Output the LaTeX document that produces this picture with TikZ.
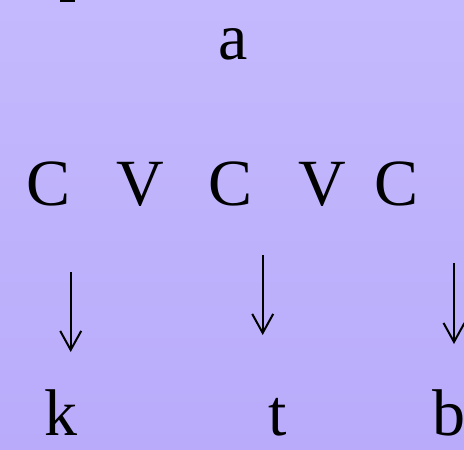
\documentclass[tikz,border=0pt]{standalone}
\usepackage{fontspec}
\setmainfont{Liberation Serif}
\usetikzlibrary{arrows.meta}
\definecolor{bgtop}{RGB}{196,185,254}
\definecolor{bgbot}{RGB}{185,171,250}
\tikzset{
  seg/.style={font=\fontsize{66}{66}\selectfont, anchor=base, inner sep=0pt, text=black},
  downarr/.style={line width=2pt, -{Straight Barb[length=19pt,width=21pt,line width=2pt]}}
}
\begin{document}
\begin{tikzpicture}[x=1pt,y=-1pt]
\shade[top color=bgtop, bottom color=bgbot] (0,0) rectangle (464,450);
\useasboundingbox (0,0) rectangle (464,450);
\fill[black] (60,0) rectangle (75,1.5);
\node[seg] (a) at (233,59) {a};
\node[seg] (c1) at (49,205) {C};
\node[seg] (v1) at (140,205) {V};
\node[seg] (c2) at (231,205) {C};
\node[seg] (v2) at (322,205) {V};
\node[seg] (c3) at (397,205) {C};
\node[seg] (k) at (61,435) {k};
\node[seg] (t) at (278,435) {t};
\node[seg] (b) at (449,435) {b};
\coordinate (s1) at (70.7,272);
\coordinate (e1) at (70.7,352);
\coordinate (s2) at (262.7,255);
\coordinate (e2) at (262.7,335);
\coordinate (s3) at (454,263);
\coordinate (e3) at (454,344);
\draw[downarr] (s1) -- (e1);
\draw[downarr] (s2) -- (e2);
\draw[downarr] (s3) -- (e3);
\end{tikzpicture}
\end{document}
